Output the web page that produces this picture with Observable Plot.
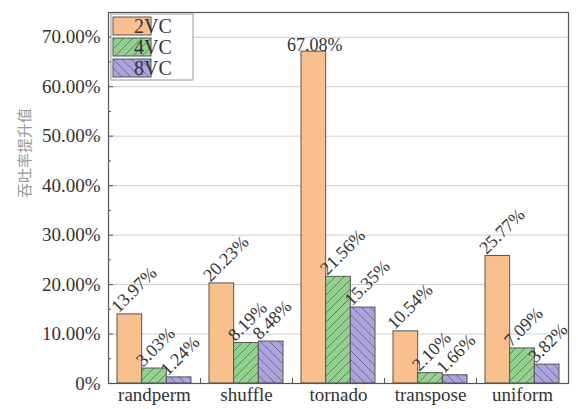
<!DOCTYPE html>
<html><head><meta charset="utf-8">
<script src="https://cdn.jsdelivr.net/npm/d3@7"></script>
<script src="https://cdn.jsdelivr.net/npm/@observablehq/plot@0.6"></script>
<style>body{margin:0;background:#fff} #chart{width:582px;height:409px}</style>
</head><body><div id="chart"></div>
<script>
const categories = ["randperm","shuffle","tornado","transpose","uniform"];
const series = ["2VC","4VC","8VC"];
const vc2 = [13.97,20.23,67.08,10.54,25.77];
const vc4 = [3.03,8.19,21.56,2.10,7.09];
const vc8 = [1.24,8.48,15.35,1.66,3.82];
const yTicks = [0,10,20,30,40,50,60,70];
const yMinorTicks = [5,15,25,35,45,55,65];
const yLabel = "吞吐率提升值";
const colors = ["#f9c08e","#93d28e","#aca4dc"];
const hatchColors = [null,"#4d6e4a","#5d5888"];
const fills = ["#f9c08e","url(#hatch4)","url(#hatch8)"];

const values = [vc2, vc4, vc8];
const data = series.flatMap((s,i)=>categories.map((c,j)=>({category:c, series:s, si:i, value:values[i][j]})));

const W=582,H=409, mL=108, mR=14, mT=12, mB=26;
const bw = (W-mL-mR)/categories.length;
const gap = 9; const w = (bw-2*gap)/3;
const serif = "'Liberation Serif','Times New Roman',serif";
const fmt = d => d.toFixed(2)+"%";

function defsMark(){
  const defs = d3.create("svg:defs");
  const p4 = defs.append("pattern").attr("id","hatch4").attr("patternUnits","userSpaceOnUse").attr("width",9).attr("height",9);
  p4.append("rect").attr("width",9).attr("height",9).attr("fill",colors[1]);
  p4.append("path").attr("d","M-2,2L2,-2M0,9L9,0M7,11L11,7").attr("stroke",hatchColors[1]).attr("stroke-width",0.8);
  const p8 = defs.append("pattern").attr("id","hatch8").attr("patternUnits","userSpaceOnUse").attr("width",9).attr("height",9);
  p8.append("rect").attr("width",9).attr("height",9).attr("fill",colors[2]);
  p8.append("path").attr("d","M-2,7L2,11M0,0L9,9M7,-2L11,2").attr("stroke",hatchColors[2]).attr("stroke-width",0.8);
  return defs.node();
}

const marks = [
  defsMark,
  Plot.gridY(yTicks.slice(1), {stroke:"#cfcfcf", strokeOpacity:1}),
  ...series.map((s,i)=>Plot.barY(data.filter(d=>d.si===i), {
    x:"category", y:"value", fill: fills[i], stroke:"#555", strokeWidth:1,
    insetLeft: gap+i*w, insetRight: bw-gap-(i+1)*w})),
  ...series.map((s,i)=>Plot.text(data.filter(d=>d.si===i && d.value<60), {
    x:"category", y:"value", text: d=>fmt(d.value), dx: -bw/2+gap+i*w+1, dy:-1,
    rotate:-45, textAnchor:"start", lineAnchor:"bottom", fontSize:18, fill:"#333"})),
  ...series.map((s,i)=>Plot.text(data.filter(d=>d.si===i && d.value>=60), {
    x:"category", y:"value", text: d=>fmt(d.value), dx: -bw/2+gap+i*w+w/2+1, dy:-1,
    textAnchor:"middle", lineAnchor:"bottom", fontSize:18, fill:"#333"})),
  Plot.ruleX(categories.slice(0,-1), {x:d=>d, dx: bw/2, y1:0, y2:1, stroke:"#555"}),
  Plot.axisY(yTicks, {tickSize:0, tickPadding:8, tickFormat: d=> d===0?"0%": fmt(d), fontSize:19, label:null, fill:"#333"}),
  Plot.axisY(yTicks, {tickSize:5, dx:5, tickFormat:()=>"", label:null, stroke:"#555"}),
  Plot.axisY(yMinorTicks, {tickSize:3, dx:3, tickFormat:()=>"", label:null, stroke:"#555"}),
  Plot.axisX({tickSize:0, tickPadding:4, fontSize:19, label:null, fill:"#333"}),
  Plot.frame({stroke:"#555", strokeWidth:1.2}),
  Plot.text([yLabel], {text:d=>d, frameAnchor:"left", dx:-83, rotate:-90, fill:"#9a9a9a", fontSize:15, fontFamily:"'Noto Sans CJK SC'"})
];

const chart = Plot.plot({
  width: W, height: H,
  marginLeft: mL, marginRight: mR, marginTop: mT, marginBottom: mB,
  style: {fontFamily: serif, fontSize:"19px", color:"#333", background:"#fff"},
  x: {domain: categories, padding: 0, label: null},
  y: {domain: [0,75], label: null},
  marks
});

// legend inside plot area
const svg = d3.select(chart);
const lg = svg.append("g").attr("font-family", serif).attr("font-size", 20);
lg.append("rect").attr("x",111).attr("y",14).attr("width",82).attr("height",66).attr("fill","#fff").attr("stroke","#999");
series.forEach((s,i)=>{
  const y = 17 + i*21;
  lg.append("rect").attr("x",113).attr("y",y).attr("width",38).attr("height",18).attr("fill",fills[i]).attr("stroke","#555");
  lg.append("text").attr("x",153).attr("y",y+9).attr("dy","0.35em").attr("fill","#333").text(s);
});
document.getElementById("chart").appendChild(chart);
</script>
</body></html>
